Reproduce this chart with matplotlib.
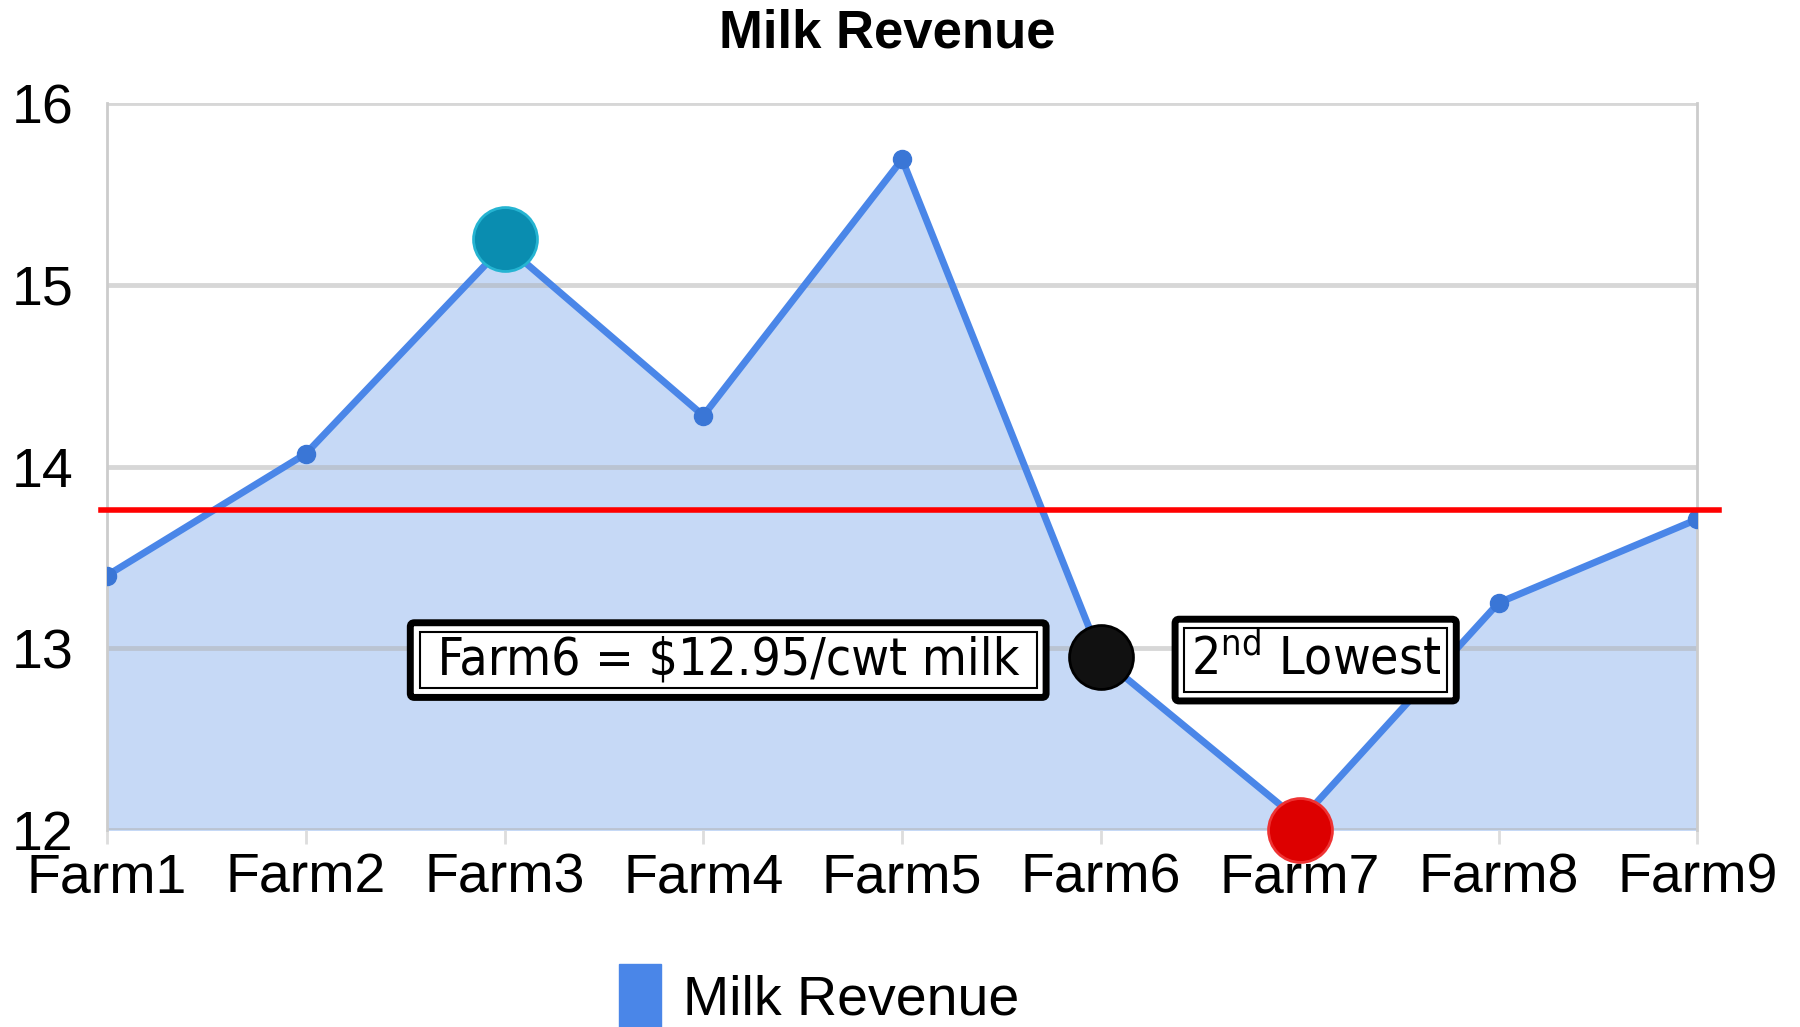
import matplotlib.pyplot as plt
from matplotlib.patches import Patch

farms = ['Farm1', 'Farm2', 'Farm3', 'Farm4', 'Farm5', 'Farm6', 'Farm7', 'Farm8', 'Farm9']
revenue = [13.40, 14.07, 15.22, 14.28, 15.69, 12.95, 12.05, 13.25, 13.71]
y_ticks = [12, 13, 14, 15, 16]
ref_level = 13.76

# highlighted points (index, value)
high_pt = (2, 15.25)
second_low_pt = (5, 12.95)
low_pt = (6, 12.0)

label_farm6 = ' Farm6 = $12.95/cwt milk '
label_second = '2$^{\\mathregular{nd}}$ Lowest'

plt.rcParams['font.family'] = ['Liberation Sans', 'DejaVu Sans']

fig = plt.figure(figsize=(18, 10.27), dpi=100)
ax = fig.add_axes([0.0594, 0.1918, 0.8836, 0.7079])

x = list(range(len(farms)))
ax.fill_between(x, revenue, 12, color='#c6d9f6', zorder=1)
ax.plot(x, revenue, color='#4a86e8', lw=5, zorder=3)
ax.plot(x, revenue, 'o', color='#3a76d6', ms=13, zorder=4)

# reference line, a bit wider than the plot area
ax.plot([-0.03, 8.11], [ref_level, ref_level], color='#ff0000', lw=4, zorder=5, clip_on=False)

# big markers
ax.plot(*high_pt, 'o', ms=46, color='#0a8db0', mec='#25b4d2', mew=2, zorder=6, clip_on=False)
ax.plot(*second_low_pt, 'o', ms=46, color='#111111', mec='#000000', mew=2, zorder=6, clip_on=False)
ax.plot(*low_pt, 'o', ms=46, color='#dd0000', mec='#ee3333', mew=2, zorder=6, clip_on=False)

# double-bordered callout boxes (second one gets wider pad instead of spaces,
# mathtext drops the trailing blank)
for tx, ty, s, p_out, p_in in [(3.125, 12.935, label_farm6, 0.24, 0.06),
                               (6.08, 12.935, label_second, 0.3, 0.12)]:
    ax.text(tx, ty, s, fontsize=37, family='DejaVu Sans', fontstretch='condensed',
            ha='center', va='center', zorder=7,
            bbox=dict(boxstyle=f'round,pad={p_out},rounding_size=0.08', fc='white', ec='black', lw=5))
    ax.text(tx, ty, s, fontsize=37, family='DejaVu Sans', fontstretch='condensed',
            ha='center', va='center', zorder=8,
            bbox=dict(boxstyle=f'square,pad={p_in}', fc='white', ec='black', lw=1.5))

ax.set_xlim(0, 8)
ax.set_ylim(12, 16)
ax.set_xticks(x)
ax.set_xticklabels(farms, fontsize=40)
ax.set_yticks(y_ticks)
ax.set_yticklabels([str(v) for v in y_ticks], fontsize=40)
ax.grid(axis='y', color='#b0b0b0', alpha=0.5, lw=3.5, zorder=2)
ax.tick_params(axis='x', length=10, width=2, color='#dddddd', pad=6)
ax.tick_params(axis='y', length=0, pad=24)

for side in ['top', 'bottom']:
    ax.spines[side].set_visible(False)
for side in ['left', 'right']:
    ax.spines[side].set_color('#cccccc')
    ax.spines[side].set_linewidth(2)

fig.text(0.493, 0.967, 'Milk Revenue', fontsize=38, fontweight='bold', ha='center', va='center')

fig.legend(handles=[Patch(color='#4a86e8', label='Milk Revenue')], loc='center',
           bbox_to_anchor=(0.455, 0.03), frameon=False, fontsize=40,
           handlelength=0.75, handleheight=1.4, handletextpad=0.4)

fig.savefig('out.png', dpi=100)
